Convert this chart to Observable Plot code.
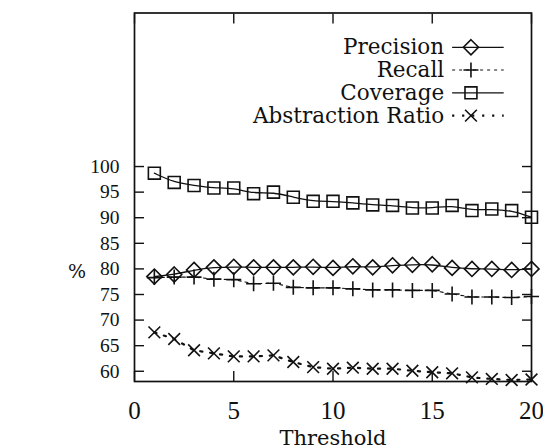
<!DOCTYPE html>
<html><head><meta charset="utf-8">
<script src="https://cdn.jsdelivr.net/npm/d3@7"></script>
<script src="https://cdn.jsdelivr.net/npm/@observablehq/plot@0.6"></script>
<style>
body{margin:0;background:#fff}
svg{display:block}
</style>
</head><body><div id="chart"></div>
<script>
// ---- data ----
const thresholds = [1,2,3,4,5,6,7,8,9,10,11,12,13,14,15,16,17,18,19,20];
const precision = [78.5,78.9,79.8,80.3,80.4,80.3,80.3,80.3,80.4,80.2,80.5,80.3,80.7,80.8,80.9,80.2,80.0,80.0,79.8,80.0];
const recall = [78.3,78.4,78.4,78.0,77.9,77.1,77.2,76.4,76.3,76.3,76.1,75.9,75.9,75.8,75.8,75.1,74.5,74.5,74.4,74.6];
const coverage = [98.7,96.9,96.3,95.8,95.8,94.7,95.0,94.0,93.2,93.2,92.9,92.5,92.4,91.9,91.9,92.4,91.4,91.7,91.4,90.1];
const abstraction = [67.6,66.3,64.1,63.5,62.9,62.9,63.1,61.8,60.8,60.5,60.7,60.5,60.5,60.1,59.8,59.6,58.8,58.5,58.3,58.4];
const seriesNames = ["Precision","Recall","Coverage","Abstraction Ratio"];
const xTicks = [0,5,10,15,20];
const yTicks = [60,65,70,75,80,85,90,95,100];
const xLabel = "Threshold";
const yLabel = "%";

// ---- styling ----
const seriesValues = [precision, recall, coverage, abstraction];
const styles = [
  {symbol:"diamond2", r:6.8, curve:"basis", dash:null, sw:1.3},
  {symbol:"plus", r:4.9, curve:"linear", dash:"3,4", sw:1.1},
  {symbol:"square2", r:7.6, curve:"basis", dash:null, sw:1.3},
  {symbol:"times", r:5.4, curve:"linear", dash:"2.2,7.8", sw:2.2}
];
const serif = "'DejaVu Serif', serif";
const numFont = "'Liberation Serif', serif";

const marks = [];
seriesNames.forEach((name, i) => {
  const rows = thresholds.map((t, j) => ({t, v: seriesValues[i][j]}));
  const s = styles[i];
  marks.push(Plot.line(rows, {x:"t", y:"v", curve:s.curve, stroke:"#111", strokeWidth:s.sw, strokeDasharray:s.dash}));
  marks.push(Plot.dot(rows, {x:"t", y:"v", symbol:()=>s.symbol, r:s.r, stroke:"#111", fill:"none", strokeWidth:1.6}));
});

// legend (in the plot's upper empty area)
const keyTop = 123.3, keyStep = 4.45, keyTextX = 15.6, keyLineX1 = 16.0, keyLineX2 = 18.6, keyMarkX = 16.95;
seriesNames.forEach((name, i) => {
  const y = keyTop - i*keyStep;
  const s = styles[i];
  marks.push(Plot.text([name], {x:()=>keyTextX, y:()=>y, text:d=>d, textAnchor:"end", lineAnchor:"middle",
    fontFamily:serif, fontSize:21.5, fill:"#111", style:"letter-spacing:0.7px"}));
  marks.push(Plot.link([name], {x1:()=>keyLineX1, x2:()=>keyLineX2, y1:()=>y, y2:()=>y, stroke:"#111",
    strokeWidth:s.sw, strokeDasharray:s.dash}));
  marks.push(Plot.dot([name], {x:()=>keyMarkX, y:()=>y, symbol:()=>s.symbol, r:s.r, stroke:"#111", fill:"none", strokeWidth:1.6}));
});

const chart = Plot.plot({
  width: 543,
  height: 447,
  marginLeft: 134,
  marginRight: 12,
  marginTop: 12.5,
  marginBottom: 66,
  style: {background:"#fff", color:"#111", overflow:"visible"},
  x: {domain:[0,20]},
  y: {domain:[58,130]},
  marks: [
    // inward ticks
    Plot.axisX({anchor:"bottom", ticks:xTicks, tickSize:-10, text:null, label:null, strokeWidth:1.4}),
    Plot.axisX({anchor:"top", ticks:xTicks, tickSize:-10, text:null, label:null, strokeWidth:1.4}),
    Plot.axisY({anchor:"left", ticks:yTicks, tickSize:-10, text:null, label:null, strokeWidth:1.4}),
    Plot.axisY({anchor:"right", ticks:yTicks, tickSize:-10, text:null, label:null, strokeWidth:1.4}),
    // tick labels
    Plot.axisX({anchor:"bottom", ticks:xTicks, tickSize:0, tickPadding:20, label:null, fontSize:25, fontFamily:numFont, tickFormat:d=>String(d)}),
    Plot.axisY({anchor:"left", ticks:yTicks, tickSize:0, tickPadding:15, label:null, fontSize:19.5, fontFamily:numFont, tickFormat:d=>String(d)}),
    Plot.frame({stroke:"#111", strokeWidth:1.7}),
    ...marks,
    Plot.text([xLabel], {x:()=>10, frameAnchor:"bottom", dy:63, lineAnchor:"bottom", text:d=>d, fontFamily:serif, fontSize:21, fill:"#111", style:"letter-spacing:0.5px"}),
    Plot.text([yLabel], {x:()=>-2.9, y:()=>79.5, text:d=>d, fontFamily:serif, fontSize:19, fill:"#111", lineAnchor:"middle"})
  ]
});
document.getElementById("chart").appendChild(chart);
</script>
</body></html>
